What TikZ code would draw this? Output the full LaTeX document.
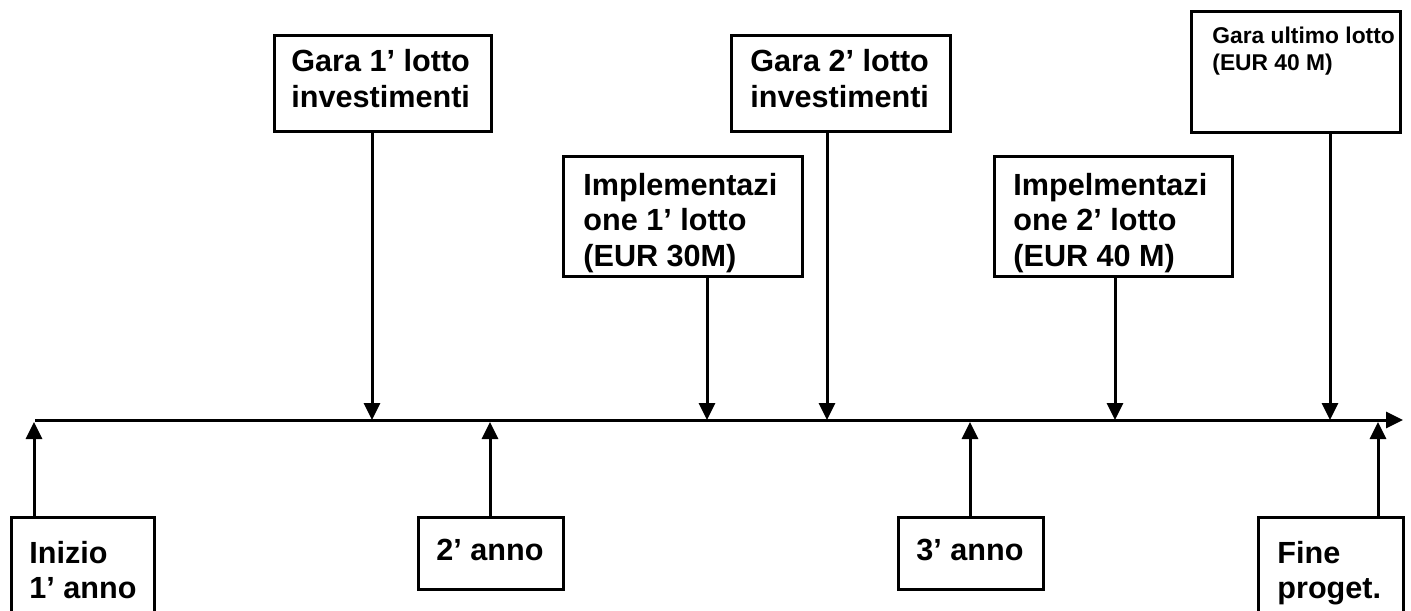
\documentclass[tikz,border=0pt]{standalone}
\usepackage{fontspec}
\setmainfont{Liberation Sans}
\usetikzlibrary{arrows.meta,fit}
\newcommand\twoln[2]{\vtop{\hbox{#1}\hbox{#2}}}
\newcommand\threeln[3]{\vtop{\hbox{#1}\hbox{#2}\hbox{#3}}}
\begin{document}
\begin{tikzpicture}[x=0.5pt,y=-0.5pt,
  box/.style={draw, line width=1.5pt, inner sep=0pt, rectangle},
  lbl/.style={anchor=base west, inner sep=0pt, font=\bfseries\fontsize{15.3pt}{17.8pt}\selectfont},
  lbls/.style={anchor=base west, inner sep=0pt, font=\bfseries\fontsize{11.4pt}{13.4pt}\selectfont},
  arr/.style={line width=1.5pt, -{Triangle[width=8pt,length=8.5pt]}}]
\useasboundingbox (0,0) rectangle (1411,610);
\clip (0,0) rectangle (1411,610);

% timeline
\coordinate (ts) at (35,420);
\coordinate (te) at (1403,420);
\draw[arr] (ts) -- (te);

% top boxes
\node[box, fit={(274,36) (491,131)}] (g1) {};
\node[lbl] (g1t) at (291,72) {\twoln{Gara 1’ lotto}{investimenti}};
\node[box, fit={(731,36) (950,131)}] (g2) {};
\node[lbl] (g2t) at (750,72) {\twoln{Gara 2’ lotto}{investimenti}};
\node[box, fit={(1191,12) (1400,132)}] (g3) {};
\node[lbls] (g3t) at (1212,44) {\twoln{Gara ultimo lotto}{(EUR 40 M)}};
\node[box, fit={(563,156) (802,276)}] (i1) {};
\node[lbl] (i1t) at (583,195) {\threeln{Implementazi}{one 1’ lotto}{(EUR 30M)}};
\node[box, fit={(994,156) (1232,276)}] (i2) {};
\node[lbl] (i2t) at (1013,195) {\threeln{Impelmentazi}{one 2’ lotto}{(EUR 40 M)}};

% points on the timeline
\coordinate (p1) at (372,420);
\coordinate (p2) at (707,420);
\coordinate (p3) at (827,420);
\coordinate (p4) at (1115,420);
\coordinate (p5) at (1330,420);
\draw[arr] (g1.south -| p1) -- (p1);
\draw[arr] (i1.south -| p2) -- (p2);
\draw[arr] (g2.south -| p3) -- (p3);
\draw[arr] (i2.south -| p4) -- (p4);
\draw[arr] (g3.south -| p5) -- (p5);

% bottom boxes
\node[box, fit={(11,517) (154,640)}] (b1) {};
\node[lbl] (b1t) at (29,563) {\twoln{Inizio}{1ʼ anno}};
\node[box, fit={(418,517) (563,589)}] (b2) {};
\node[lbl] (b2t) at (436,560) {2’ anno};
\node[box, fit={(898,517) (1043,589)}] (b3) {};
\node[lbl] (b3t) at (916,560) {3ʼ anno};
\node[box, fit={(1258,517) (1403,640)}] (b4) {};
\node[lbl] (b4t) at (1277,563) {\twoln{Fine}{proget.}};

\coordinate (q1) at (34,422);
\coordinate (q2) at (490,422);
\coordinate (q3) at (970,422);
\coordinate (q4) at (1378,422);
\draw[arr] (b1.north -| q1) -- (q1);
\draw[arr] (b2.north -| q2) -- (q2);
\draw[arr] (b3.north -| q3) -- (q3);
\draw[arr] (b4.north -| q4) -- (q4);
\end{tikzpicture}
\end{document}
